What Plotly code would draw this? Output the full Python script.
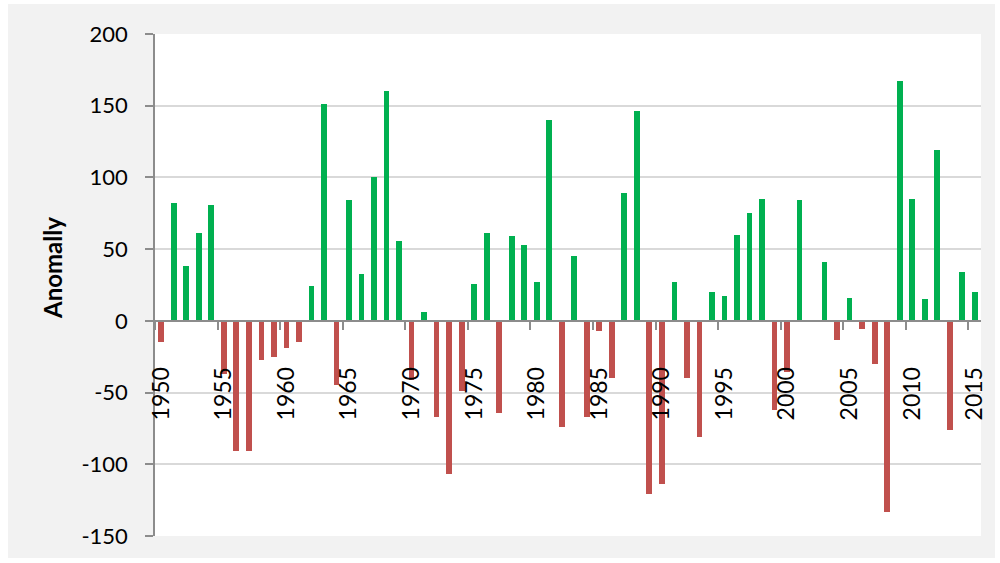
import plotly.graph_objects as go

years = list(range(1950, 2016))
anomaly = [
    -15, 82, 38, 61, 81, -37, -91, -91, -27, -25,   # 1950-1959
    -19, -15, 24, 151, -45, 84, 33, 100, 160, 56,   # 1960-1969
    -41, 6, -67, -107, -49, 26, 61, -64, 59, 53,    # 1970-1979
    27, 140, -74, 45, -67, -7, -40, 89, 146, -121,  # 1980-1989
    -114, 27, -40, -81, 20, 17, 60, 75, 85, -62,    # 1990-1999
    -36, 84, -1, 41, -13, 16, -6, -30, -133, 167,   # 2000-2009
    85, 15, 119, -76, 34, 20,                       # 2010-2015
]
label_years = list(range(1950, 2016, 5))
y_ticks = [-150, -100, -50, 0, 50, 100, 150, 200]
y_title = "Anomally"

GREEN = "#00b050"
RED = "#c0504d"
colors = [GREEN if v >= -1 else RED for v in anomaly]

FONT = "Lato"
BG = "#f2f2f2"

fig = go.Figure()
fig.add_trace(go.Bar(
    x=years, y=anomaly, marker=dict(color=colors, line=dict(width=0)),
    width=0.46, showlegend=False, hoverinfo="skip",
))

# plot area in pixels
L, T, W, H = 155, 34, 826, 502


def px_x(p):
    return (p - L) / W


def px_y(p):
    return (T + H - p) / H


frame = []
for (a, b, c, d) in [(0, 8, 0, 563), (995, 1000, 0, 563), (0, 1000, 0, 4), (0, 1000, 558, 563)]:
    frame.append(dict(type="rect", xref="paper", yref="paper", layer="above",
                      x0=px_x(a), x1=px_x(b), y0=px_y(d), y1=px_y(c),
                      fillcolor="white", line=dict(width=0)))

fig.update_layout(
    width=1000, height=563,
    margin=dict(l=L, r=1000 - L - W, t=T, b=563 - T - H),
    paper_bgcolor=BG,
    plot_bgcolor="white",
    font=dict(family=FONT, size=22, color="black"),
    bargap=0,
    shapes=frame,
    annotations=[dict(
        text="<b>" + y_title + "</b>", xref="paper", yref="paper",
        x=px_x(52), y=px_y(268), xanchor="center", yanchor="middle",
        textangle=-90, showarrow=False,
        font=dict(family=FONT, size=24, color="black"),
    )],
)

fig.update_xaxes(
    range=[1949.5, 2015.5],
    tickmode="array", tickvals=label_years, ticktext=[str(y) for y in label_years],
    tickangle=-90, ticks="", ticklabelstandoff=36,
    showgrid=False, zeroline=False,
    showline=True, linecolor="#8c8c8c", linewidth=2,
    anchor="free", position=150 / 350,
    minor=dict(tick0=1949.5, dtick=5, ticks="outside", ticklen=8,
               tickcolor="#8c8c8c", tickwidth=1.5, showgrid=False),
    tickfont=dict(family=FONT, size=23, color="black"),
)

fig.update_yaxes(
    range=[-150, 200], tickmode="array", tickvals=y_ticks,
    ticktext=[str(v) for v in y_ticks],
    showgrid=True, gridcolor="#d9d9d9", gridwidth=1.5,
    zeroline=False,
    showline=True, linecolor="#8c8c8c", linewidth=1.5,
    ticks="outside", ticklen=8, tickcolor="#8c8c8c", tickwidth=1.5,
    ticklabelstandoff=13,
    tickfont=dict(family=FONT, size=22, color="black"),
)

fig.write_html("out.html", config={"displayModeBar": False},
               post_script="document.body.style.margin='0';")
